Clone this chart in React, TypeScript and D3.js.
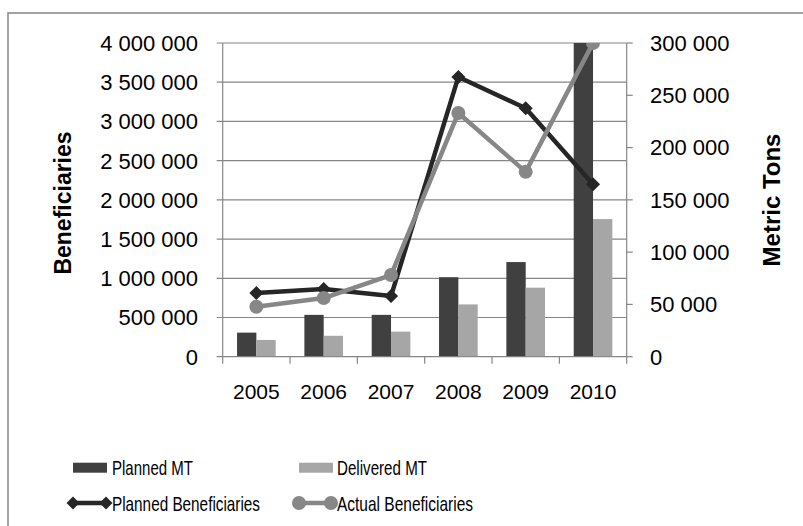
import React from "react";
import * as d3 from "d3";

const years = ["2005", "2006", "2007", "2008", "2009", "2010"];
const plannedMT = [23000, 40000, 40000, 76000, 90500, 300000];
const deliveredMT = [16000, 20000, 24000, 50000, 66000, 131600];
const plannedBen = [811000, 862000, 773000, 3567000, 3168000, 2200000];
const actualBen = [637000, 748000, 1041000, 3108000, 2357000, 4000000];
const leftTicks = [0, 500000, 1000000, 1500000, 2000000, 2500000, 3000000, 3500000, 4000000];
const rightTicks = [0, 50000, 100000, 150000, 200000, 250000, 300000];

const W = 803;
const H = 526;
const plot = { left: 222.7, right: 626.7, top: 43, bottom: 356.7 };
const font = "'Liberation Sans', Arial, sans-serif";
const grid = "#868686";
const cPlannedMT = "#404040";
const cDeliveredMT = "#a6a6a6";
const cPlannedBen = "#262626";
const cActualBen = "#878787";

const fmt = (v: number) => d3.format(",")(v).replace(/,/g, " ");

function Diamond({ x, y, s, fill }: { x: number; y: number; s: number; fill: string }) {
  return <path d={`M${x},${y - s}L${x + s},${y}L${x},${y + s}L${x - s},${y}Z`} fill={fill} />;
}

export default function App() {
  const x = d3.scaleBand<string>().domain(years).range([plot.left, plot.right]);
  const yL = d3.scaleLinear().domain([0, 4000000]).range([plot.bottom, plot.top]);
  const yR = d3.scaleLinear().domain([0, 300000]).range([plot.bottom, plot.top]);
  const barW = x.bandwidth() * 0.287;
  const groupOff = (x.bandwidth() - barW * 2) / 2;
  const cx = (y: string) => (x(y) as number) + x.bandwidth() / 2;

  const lineL = d3
    .line<number>()
    .x((_, i) => cx(years[i]))
    .y((d) => yL(d));

  return (
    <svg width={W} height={H} style={{ position: "absolute", left: 0, top: 0 }} fontFamily={font}>
      <defs>
        <clipPath id="plotClip">
          <rect x={plot.left} y={plot.top} width={plot.right - plot.left} height={plot.bottom - plot.top} />
        </clipPath>
      </defs>
      <rect x={0} y={0} width={W} height={H} fill="#fff" />
      <rect x={8} y={13} width={W + 20} height={H + 20} fill="none" stroke="#8c8c8c" strokeWidth={1.6} />

      {/* gridlines + left ticks */}
      {leftTicks.map((t) => (
        <g key={"l" + t}>
          <line x1={plot.left - 6} x2={plot.right} y1={yL(t)} y2={yL(t)} stroke={grid} strokeWidth={1.2} />
          <text x={198} y={yL(t)} dy="0.36em" textAnchor="end" fontSize={22} fill="#000">
            {fmt(t)}
          </text>
        </g>
      ))}
      {rightTicks.map((t) => (
        <g key={"r" + t}>
          <line x1={plot.right} x2={plot.right + 6} y1={yR(t)} y2={yR(t)} stroke={grid} strokeWidth={1.2} />
          <text x={650} y={yR(t)} dy="0.36em" textAnchor="start" fontSize={22} fill="#000">
            {fmt(t)}
          </text>
        </g>
      ))}
      <line x1={plot.left} x2={plot.left} y1={plot.top} y2={plot.bottom} stroke={grid} strokeWidth={1.2} />
      <line x1={plot.right} x2={plot.right} y1={plot.top} y2={plot.bottom} stroke={grid} strokeWidth={1.2} />

      {/* category ticks */}
      {years.concat(["end"]).map((y, i) => {
        const xx = plot.left + i * x.bandwidth();
        return <line key={"c" + y} x1={xx} x2={xx} y1={plot.bottom} y2={plot.bottom + 7} stroke={grid} strokeWidth={1.2} />;
      })}
      {years.map((y) => (
        <text key={"xl" + y} x={cx(y)} y={399} textAnchor="middle" fontSize={21} fill="#000">
          {y}
        </text>
      ))}

      <g clipPath="url(#plotClip)">
        {years.map((y, i) => (
          <g key={"b" + y}>
            <rect x={(x(y) as number) + groupOff} y={yR(plannedMT[i])} width={barW} height={plot.bottom - yR(plannedMT[i])} fill={cPlannedMT} />
            <rect x={(x(y) as number) + groupOff + barW} y={yR(deliveredMT[i])} width={barW} height={plot.bottom - yR(deliveredMT[i])} fill={cDeliveredMT} />
          </g>
        ))}
        <line x1={plot.left} x2={plot.right} y1={plot.bottom} y2={plot.bottom} stroke={grid} strokeWidth={1.2} />
        <path d={lineL(plannedBen) as string} fill="none" stroke={cPlannedBen} strokeWidth={4.5} strokeLinejoin="round" />
        {plannedBen.map((v, i) => (
          <Diamond key={"pd" + i} x={cx(years[i])} y={yL(v)} s={7} fill={cPlannedBen} />
        ))}
        <path d={lineL(actualBen) as string} fill="none" stroke={cActualBen} strokeWidth={4.5} strokeLinejoin="round" />
        {actualBen.map((v, i) => (
          <circle key={"ac" + i} cx={cx(years[i])} cy={yL(v)} r={7} fill={cActualBen} />
        ))}
      </g>

      {/* axis titles */}
      <text transform="translate(71,203) rotate(-90)" textAnchor="middle" fontSize={23} fontWeight="bold" fill="#000">
        Beneficiaries
      </text>
      <text transform="translate(780,200) rotate(-90)" textAnchor="middle" fontSize={24} fontWeight="bold" fill="#000">
        Metric Tons
      </text>

      {/* legend */}
      <rect x={73} y={462.7} width={34} height={10} fill={cPlannedMT} />
      <text x={112} y={467} dy="0.36em" fontSize={21} textLength={81} lengthAdjust="spacingAndGlyphs">Planned MT</text>
      <rect x={299} y={462.7} width={34} height={10} fill={cDeliveredMT} />
      <text x={337} y={467} dy="0.36em" fontSize={21} textLength={90} lengthAdjust="spacingAndGlyphs">Delivered MT</text>

      <line x1={73} x2={106} y1={503} y2={503} stroke={cPlannedBen} strokeWidth={4.5} />
      <Diamond x={73} y={503} s={6.5} fill={cPlannedBen} />
      <Diamond x={106} y={503} s={6.5} fill={cPlannedBen} />
      <text x={112} y={503} dy="0.36em" fontSize={21} textLength={148} lengthAdjust="spacingAndGlyphs">Planned Beneficiaries</text>
      <line x1={299} x2={331} y1={503} y2={503} stroke={cActualBen} strokeWidth={4.5} />
      <circle cx={299} cy={503} r={7} fill={cActualBen} />
      <circle cx={331} cy={503} r={7} fill={cActualBen} />
      <text x={337} y={503} dy="0.36em" fontSize={21} textLength={136} lengthAdjust="spacingAndGlyphs">Actual Beneficiaries</text>
    </svg>
  );
}
